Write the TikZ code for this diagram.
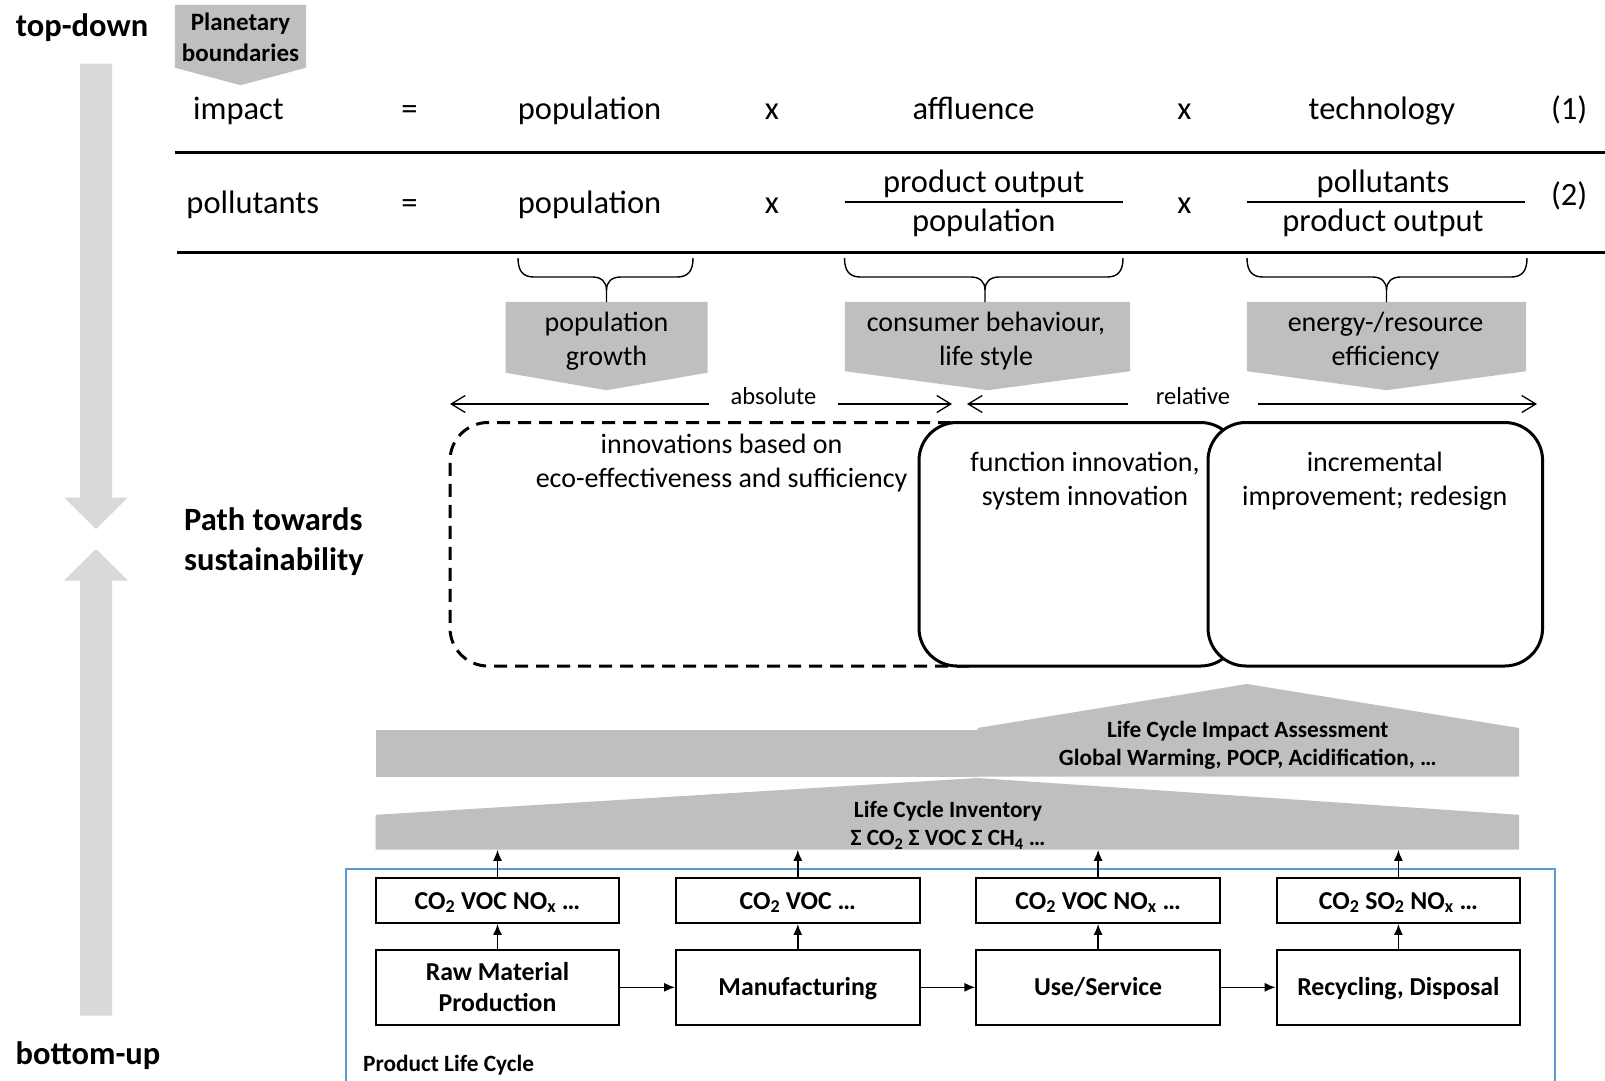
\documentclass[tikz,border=0pt]{standalone}
\usepackage{fontspec}
\setmainfont{Carlito}
\usetikzlibrary{arrows.meta,calc,backgrounds}

\definecolor{railgrey}{HTML}{D9D9D9}
\definecolor{blockgrey}{HTML}{BFBFBF}
\definecolor{frameblue}{HTML}{5B9BD5}

\newcommand\fsz[2]{\fontsize{#1}{#2}\selectfont}
% curly bracket under an equation term: left end, right end, stem x
\newcommand\termbrace[3]{%
  \draw[bracket] (#1,258) .. controls (#1,271) and (#1+5,277) .. (#1+16,277)
    -- (#3-14,277) .. controls (#3-5,277) and (#3,282) .. (#3,290) -- (#3,302);
  \draw[bracket] (#2,258) .. controls (#2,271) and (#2-5,277) .. (#2-16,277)
    -- (#3+14,277) .. controls (#3+5,277) and (#3,282) .. (#3,290);}
% grey block pointing down, built on a node's frame
\newcommand\downblock[2]{%
  \fill[blockgrey] (#1.north west) -- (#1.north east) -- (#1.south east)
    -- ($(#1.south)+(0,#2)$) -- (#1.south west) -- cycle;}

\begin{document}
\begin{tikzpicture}[x=1pt,y=-1pt,
  eqtxt/.style={font=\fsz{32.5}{39}, inner sep=0pt, text height=26.5pt, text depth=4pt},
  sidelbl/.style={font=\bfseries\fsz{32.5}{40}, inner sep=0pt},
  blockframe/.style={inner sep=0pt},
  pentbox/.style={font=\fsz{28}{34}, align=center, inner sep=0pt},
  rangelbl/.style={font=\fsz{24.5}{29}, fill=white, inner sep=0pt, text height=15.5pt, text depth=6.5pt},
  rangearrow/.style={line width=1.3pt, {Straight Barb[length=14pt,width=17pt]}-{Straight Barb[length=14pt,width=17pt]}},
  innobox/.style={draw, line width=3pt, rounded corners=38pt, fill=white, inner sep=0pt},
  innotxt/.style={font=\fsz{28}{34}, align=center, inner sep=0pt},
  bracket/.style={line width=1.4pt},
  lcatxt/.style={font=\bfseries\fsz{23.3}{27.7}, align=center, inner sep=0pt},
  stage/.style={draw, line width=1.8pt, minimum width=243.6pt, font=\bfseries\fsz{25.8}{30.6}, align=center, inner sep=0pt},
  oneline/.style={text height=21pt, text depth=4pt},
  flow/.style={line width=1.5pt, -{Latex[length=11pt,width=9pt]}},
]
\useasboundingbox (0,0) rectangle (1605,1080);

% ---- top-down / bottom-up rail ----
\fill[railgrey] (80,63.5) -- (112,63.5) -- (112,497.5) -- (128,497.5) -- (96,529)
  -- (64,497.5) -- (80,497.5) -- cycle;
\fill[railgrey] (96,549) -- (128,580.5) -- (112,580.5) -- (112,1015.5) -- (80,1015.5)
  -- (80,580.5) -- (64,580.5) -- cycle;
\node[sidelbl] (topdown) at (82,28) {top-down};
\node[sidelbl] (bottomup) at (88,1056) {bottom-up};
\node[sidelbl, align=left, anchor=west] (pathlbl) at (184,542) {Path towards\\sustainability};

% ---- planetary boundaries ----
\node[blockframe, minimum width=131pt, minimum height=62.5pt] (planet) at (240.5,36.25) {};
\node[pentbox, font=\bfseries\fsz{25}{30.7}] (planettxt) at (240.5,37.5) {Planetary\\boundaries};

% ---- IPAT equations ----
\node[eqtxt] (impact) at (238.5,108.5) {impact};
\node[eqtxt] (eqa) at (409.5,108.5) {=};
\node[eqtxt] (popa) at (589.6,108.5) {population};
\node[eqtxt] (timesaa) at (771.8,108.5) {x};
\node[eqtxt] (affl) at (973.5,108.5) {affluence};
\node[eqtxt] (timesab) at (1184.3,108.5) {x};
\node[eqtxt] (tech) at (1381.9,108.5) {technology};
\node[eqtxt] (numa) at (1569.2,108.5) {(1)};
\draw[line width=3pt] (175,152.5) -- (1605,152.5);

\node[eqtxt] (poll) at (252.8,202.7) {pollutants};
\node[eqtxt] (eqb) at (409.5,202.7) {=};
\node[eqtxt] (popb) at (589.6,202.7) {population};
\node[eqtxt] (timesba) at (771.8,202.7) {x};
\node[eqtxt] (fracanum) at (983.7,181.2) {product output};
\node[eqtxt] (fracaden) at (983.7,220) {population};
\draw[line width=2pt] (844.5,201.6) -- (1122.9,201.6);
\node[eqtxt] (timesbb) at (1184.3,202.7) {x};
\node[eqtxt] (fracbnum) at (1383,181.2) {pollutants};
\node[eqtxt] (fracbden) at (1383,220) {product output};
\draw[line width=2pt] (1246.8,201.6) -- (1525.2,201.6);
\node[eqtxt] (numb) at (1569.2,194.5) {(2)};
\draw[line width=3pt] (177,252.8) -- (1605,252.8);

% ---- drivers ----
\node[blockframe, minimum width=201.6pt, minimum height=70.5pt] (growth) at (606.5,337.25) {};
\node[blockframe, minimum width=285pt, minimum height=69pt] (lifestyle) at (987.5,336.5) {};
\node[blockframe, minimum width=279pt, minimum height=69pt] (effic) at (1386.5,336.5) {};
\node[pentbox] (growthtxt) at (606.5,341.3) {population\\growth};
\node[pentbox] (lifestyletxt) at (986,340.6) {consumer behaviour,\\life style};
\node[pentbox] (effictxt) at (1385.5,340.6) {energy-/resource\\efficiency};

\begin{scope}[on background layer]
  \downblock{planet}{17.5}
  \downblock{growth}{17.5}
  \downblock{lifestyle}{19}
  \downblock{effic}{19}
\end{scope}

\termbrace{518}{693}{606.5}
\termbrace{844.5}{1123}{985}
\termbrace{1247}{1527}{1386.5}

% ---- absolute / relative ranges ----
\coordinate (absL) at (450,404);
\coordinate (absR) at (952,404);
\coordinate (relL) at (967,404);
\coordinate (relR) at (1537,404);
\draw[rangearrow] (absL) -- (absR);
\draw[rangearrow] (relL) -- (relR);
\node[rangelbl, minimum width=129pt] (abslbl) at (773.5,400) {absolute};
\node[rangelbl, minimum width=130pt] (rellbl) at (1193,400) {relative};

% ---- innovation types ----
\node[innobox, fill=none, dash pattern=on 13pt off 8pt, minimum width=560pt, minimum height=243.5pt] (ecobox) at (730,544.25) {};
\node[innobox, minimum width=319.5pt, minimum height=243.5pt] (funcbox) at (1078.75,544.25) {};
\node[innobox, minimum width=334.6pt, minimum height=243.5pt] (incrbox) at (1375.3,544.25) {};
\node[innotxt] (ecotxt) at (721.6,463.1) {innovations based on\\eco-effectiveness and sufficiency};
\node[innotxt] (functxt) at (1085,481.1) {function innovation,\\system innovation};
\node[innotxt] (incrtxt) at (1374.7,481.1) {incremental\\improvement; redesign};

% ---- LCA layers ----
\fill[blockgrey] (375.7,730) rectangle (977.5,776.5);
\fill[blockgrey] (977.5,776.5) -- (977.5,728) -- (1246.8,684) -- (1519,728) -- (1519,776.5) -- cycle;
\fill[blockgrey] (375.7,849.6) -- (375.7,814.8) -- (977.5,778) -- (1519,814.8) -- (1519,849.6) -- cycle;
\node[minimum width=1143.3pt, minimum height=34.8pt, inner sep=0pt] (lcibase) at (947.35,832.2) {};
\node[lcatxt] (lciatxt) at (1247.8,745.2) {Life Cycle Impact Assessment\\Global Warming, POCP, Acidification, …};
\node[lcatxt] (lcitxt) at (948,825.4) {Life Cycle Inventory\\Σ CO\textsubscript{2} Σ VOC Σ CH\textsubscript{4} …};

% ---- product life cycle ----
\draw[frameblue, line width=1.5pt] (346,869) rectangle (1555,1095);
\node[font=\bfseries\fsz{23.3}{28}, anchor=west, inner sep=0pt] (plc) at (363,1065.5) {Product Life Cycle};

\node[stage, oneline, minimum height=45pt] (ema) at (497.5,900.5) {CO\textsubscript{2} VOC NO\textsubscript{x} …};
\node[stage, oneline, minimum height=45pt] (emb) at (797.8,900.5) {CO\textsubscript{2} VOC …};
\node[stage, oneline, minimum height=45pt] (emc) at (1098.1,900.5) {CO\textsubscript{2} VOC NO\textsubscript{x} …};
\node[stage, oneline, minimum height=45pt] (emd) at (1398.4,900.5) {CO\textsubscript{2} SO\textsubscript{2} NO\textsubscript{x} …};
\node[stage, minimum height=74.6pt] (raw) at (497.5,987.3) {Raw Material\\Production};
\node[stage, oneline, minimum height=74.6pt] (manu) at (797.8,987.3) {Manufacturing};
\node[stage, oneline, minimum height=74.6pt] (use) at (1098.1,987.3) {Use/Service};
\node[stage, oneline, minimum height=74.6pt] (recy) at (1398.4,987.3) {Recycling, Disposal};

\draw[flow] (raw) -- (manu);
\draw[flow] (manu) -- (use);
\draw[flow] (use) -- (recy);
\draw[flow] (raw) -- (ema);
\draw[flow] (manu) -- (emb);
\draw[flow] (use) -- (emc);
\draw[flow] (recy) -- (emd);
\draw[flow] (ema.north) -- (ema.north |- lcibase.south);
\draw[flow] (emb.north) -- (emb.north |- lcibase.south);
\draw[flow] (emc.north) -- (emc.north |- lcibase.south);
\draw[flow] (emd.north) -- (emd.north |- lcibase.south);
\end{tikzpicture}
\end{document}
